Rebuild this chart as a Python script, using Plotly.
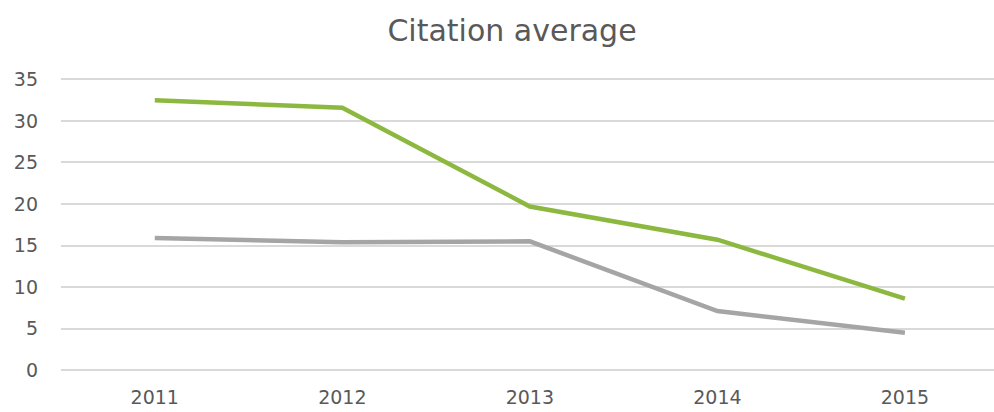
import plotly.graph_objects as go

years = ["2011", "2012", "2013", "2014", "2015"]
green_values = [32.5, 31.6, 19.7, 15.7, 8.6]
gray_values = [15.9, 15.4, 15.5, 7.1, 4.5]
y_ticks = [0, 5, 10, 15, 20, 25, 30, 35]

x_pos = list(range(len(years)))

fig = go.Figure()
fig.add_trace(go.Scatter(x=x_pos, y=gray_values, mode="lines",
                         line=dict(color="#a5a5a5", width=4.5), showlegend=False))
fig.add_trace(go.Scatter(x=x_pos, y=green_values, mode="lines",
                         line=dict(color="#8cb83f", width=4.5), showlegend=False))

tick_font = dict(family="DejaVu Sans", size=19, color="#595959")

fig.update_layout(
    width=994, height=412,
    margin=dict(l=61, r=0, t=77, b=42),
    paper_bgcolor="white", plot_bgcolor="white",
    title=dict(text="Citation average", x=512/994, xref="container", xanchor="center",
               y=1 - 30/412, yref="container", yanchor="middle",
               font=dict(family="DejaVu Sans", size=30, color="#595959")),
    xaxis=dict(tickmode="array", tickvals=x_pos, ticktext=years,
               range=[-0.5, 4.475], showgrid=False, zeroline=False,
               showline=False, ticks="", tickfont=tick_font, ticklabelstandoff=14),
    yaxis=dict(tickmode="array", tickvals=y_ticks, range=[0, 35.3],
               showgrid=True, gridcolor="#d9d9d9", gridwidth=1.5,
               zeroline=True, zerolinecolor="#d9d9d9", zerolinewidth=1.5,
               showline=False, ticks="", tickfont=tick_font, ticklabelstandoff=22),
)

fig.write_html("out.html", config={"displayModeBar": False},
               post_script="document.body.style.margin='0';")
